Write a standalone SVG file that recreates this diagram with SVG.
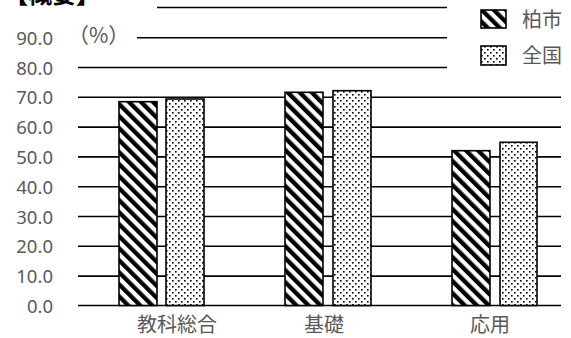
<svg xmlns="http://www.w3.org/2000/svg" width="571" height="338" viewBox="0 0 571 338">
<defs>
<pattern id="stripe" width="8.5" height="8.5" patternUnits="userSpaceOnUse" patternTransform="rotate(-45)">
<rect width="8.5" height="8.5" fill="#fff"/>
<rect width="4.3" height="8.5" fill="#000"/>
</pattern>
<pattern id="dots" width="6" height="6" patternUnits="userSpaceOnUse">
<rect width="6" height="6" fill="#fff"/>
<rect x="1" y="1" width="1.6" height="1.6" fill="#000"/>
<rect x="4" y="4" width="1.6" height="1.6" fill="#000"/>
</pattern>
</defs>
<style>
.grid{stroke:#000;stroke-width:1.6;fill:none}
.bar{stroke:#000;stroke-width:1.6}
.kashiwa{fill:url(#stripe)}
.zenkoku{fill:url(#dots)}
.ax{font-family:"Noto Sans","Noto Sans CJK JP",sans-serif;font-size:18.5px;fill:#595959;text-anchor:end}
.lbl{font-family:"Noto Sans CJK JP",sans-serif;font-size:20px;fill:#595959}
</style>
<rect width="571" height="338" fill="#fff"/>
<g id="title">
<text x="4" y="3" style="font-family:'Noto Sans CJK JP',sans-serif;font-size:24px;font-weight:bold;fill:#000">【概要】</text>
</g>
<g id="gridlines">
<line class="grid" x1="157" y1="7.5" x2="447" y2="7.5"/>
<line class="grid" x1="137" y1="37.7" x2="447" y2="37.7"/>
<line class="grid" x1="78" y1="67.5" x2="447" y2="67.5"/>
<line class="grid" x1="78" y1="97.3" x2="561" y2="97.3"/>
<line class="grid" x1="78" y1="127.1" x2="561" y2="127.1"/>
<line class="grid" x1="78" y1="156.9" x2="561" y2="156.9"/>
<line class="grid" x1="78" y1="186.7" x2="561" y2="186.7"/>
<line class="grid" x1="78" y1="216.5" x2="561" y2="216.5"/>
<line class="grid" x1="78" y1="246.3" x2="561" y2="246.3"/>
<line class="grid" x1="78" y1="276.1" x2="561" y2="276.1"/>
<line class="grid" x1="78" y1="305.5" x2="561" y2="305.5"/>
</g>
<g id="axis-labels">
<text class="ax" x="53" y="44.5">90.0</text>
<text class="ax" x="53" y="74.5">80.0</text>
<text class="ax" x="53" y="104">70.0</text>
<text class="ax" x="53" y="134">60.0</text>
<text class="ax" x="53" y="163.5">50.0</text>
<text class="ax" x="53" y="193.5">40.0</text>
<text class="ax" x="53" y="223.5">30.0</text>
<text class="ax" x="53" y="253">20.0</text>
<text class="ax" x="53" y="283">10.0</text>
<text class="ax" x="53" y="312.5">0.0</text>
<text class="lbl" x="68" y="43" style="font-size:21px">（%）</text>
</g>
<g id="bar-kyoka-kashiwa"><rect class="bar kashiwa" x="119" y="101.7" width="38" height="203.8"/></g>
<g id="bar-kyoka-zenkoku"><rect class="bar zenkoku" x="166" y="99" width="38" height="206.5"/></g>
<g id="bar-kiso-kashiwa"><rect class="bar kashiwa" x="285" y="92.3" width="38" height="213.2"/></g>
<g id="bar-kiso-zenkoku"><rect class="bar zenkoku" x="333" y="90.7" width="38" height="214.8"/></g>
<g id="bar-oyo-kashiwa"><rect class="bar kashiwa" x="452" y="150.7" width="38" height="154.8"/></g>
<g id="bar-oyo-zenkoku"><rect class="bar zenkoku" x="500" y="142.3" width="37" height="163.2"/></g>
<g id="category-labels">
<text class="lbl" x="177" y="332" text-anchor="middle">教科総合</text>
<text class="lbl" x="324" y="332" text-anchor="middle">基礎</text>
<text class="lbl" x="490" y="332" text-anchor="middle">応用</text>
</g>
<g id="legend">
<rect class="bar kashiwa" x="481" y="10" width="25" height="18"/>
<text class="lbl" x="522" y="27">柏市</text>
<rect class="bar zenkoku" x="481" y="46" width="25" height="19"/>
<text class="lbl" x="522" y="63">全国</text>
</g>
</svg>
